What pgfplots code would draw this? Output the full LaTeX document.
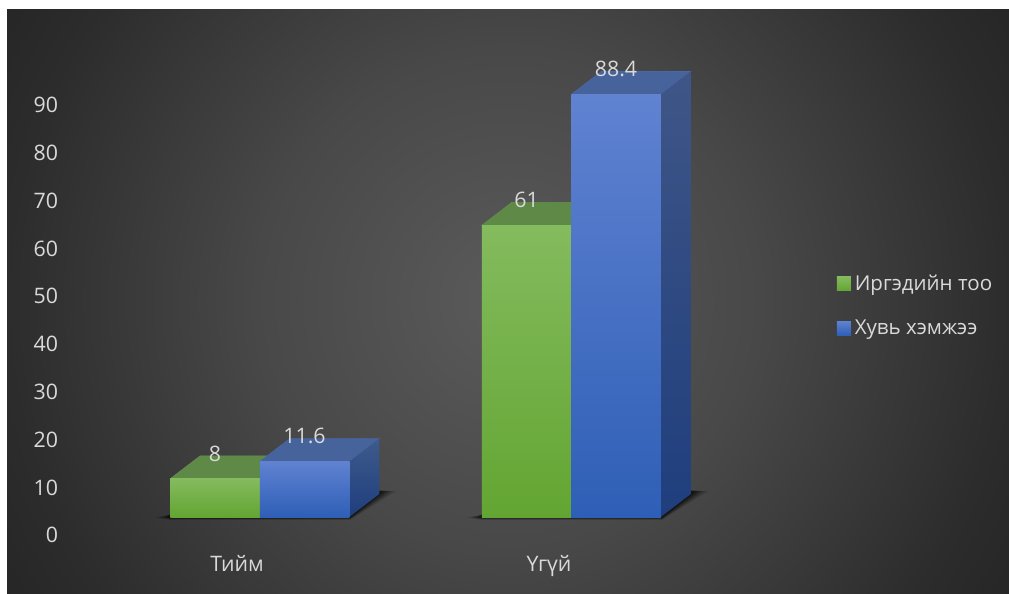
\documentclass[border=0pt]{standalone}
\usepackage{fontspec}
\usepackage{pgfplots}
\pgfplotsset{compat=1.18}
\setmainfont{Open Sans}
\definecolor{lab}{HTML}{D9D9D9}
\definecolor{gt}{RGB}{132,187,94}
\definecolor{gb}{RGB}{99,165,50}
\definecolor{bt}{RGB}{96,130,209}
\definecolor{bm}{RGB}{67,113,204}
\definecolor{bb}{RGB}{46,95,182}
\pgfdeclareradialshading{bgshade}{\pgfpointorigin}{rgb(0bp)=(0.355,0.355,0.355); rgb(10.8bp)=(0.283,0.283,0.283); rgb(21.6bp)=(0.173,0.173,0.173); rgb(25bp)=(0.15,0.15,0.15); rgb(50bp)=(0.15,0.15,0.15)}
\newcommand{\labfont}{\fontsize{16}{19}\selectfont}
\newcommand{\legfont}{\fontsize{15.4}{18}\selectfont}
\pgfplotsset{
  greenbar/.style={ybar, bar shift=0pt, bar width=89.5, draw=none, shade, top color=gt, bottom color=gb, nodes near coords},
  bluebar/.style={ybar, bar shift=0pt, bar width=89.5, draw=none, shade, top color=bt, middle color=bm, bottom color=bb, nodes near coords},
}
\begin{document}
\begin{tikzpicture}
\begin{axis}[
  scale only axis, width=756.75pt, height=444.75pt,
  xmin=0, xmax=1009, ymin=-15.9, ymax=108.16,
  clip=false, axis on top,
  axis line style={draw=none},
  major tick length=0pt, tick style={draw=none},
  ytick={0,10,...,90},
  xtick={237,549},
  xticklabels={Тийм,Үгүй},
  /pgf/number format/assume math mode=true,
  tick label style={font=\labfont, text=lab},
  yticklabel style={anchor=east, xshift=47pt, yshift=-13.75pt},
  xticklabel style={anchor=base, yshift=16.5pt},
  legend style={at={(axis cs:836.5,44.2)}, anchor=west, draw=none, fill=none,
    font=\legfont, text=lab, row sep=14.5pt, inner xsep=0pt, inner ysep=0pt,
    /tikz/every node/.append style={inner sep=3pt}},
  legend cell align=left,
  every node near coord/.style={anchor=center, font=\labfont, text=lab, yshift=19pt, shade=false},
]
% background
\fill[white] (axis cs:0,-15.9) rectangle (axis cs:1009,108.16);
\begin{scope}
\clip (axis cs:7,-15.9) rectangle (axis cs:1009,106.07);
\path[overlay, shading=bgshade] (axis cs:-72,-75.9) rectangle (axis cs:1088,166.7);
\end{scope}
% floor shadows
\foreach \o/\a/\b in {0/0.12/-0.6,3/0.15/-0.5,6/0.2/-0.4,9/0.25/-0.3,12/0.3/-0.2}{
  \edef\tmp{\noexpand\addplot[forget plot, fill=black, draw=none, fill opacity=\a] coordinates {(155+\o,-0.1) (170,\b) (350,\b) (396-\o,5.4) (370,5.6) (300,5) (170,0.5)} -- cycle;}
  \tmp
  \edef\tmp{\noexpand\addplot[forget plot, fill=black, draw=none, fill opacity=\a] coordinates {(467+\o,-0.1) (482,\b) (662,\b) (708-\o,5.4) (682,5.6) (600,5) (482,0.5)} -- cycle;}
  \tmp
}
% green
\addplot[forget plot, fill={rgb,255:red,94;green,137;blue,70}, draw={rgb,255:red,100;green,145;blue,75}, line width=0.4pt] coordinates {(170.25,8) (259.75,8) (289.75,12.8) (200.25,12.8)} -- cycle;
\addplot[forget plot, fill={rgb,255:red,94;green,137;blue,70}, draw={rgb,255:red,100;green,145;blue,75}, line width=0.4pt] coordinates {(481.75,61) (571.25,61) (601.25,65.8) (511.75,65.8)} -- cycle;
\addplot[greenbar,
  legend image code/.code={\path[shade, top color=gt, bottom color=gb] (0pt,-5.25pt) rectangle (10.5pt,5.25pt);}
  ] coordinates {(215,8)};
\addlegendentry{Иргэдийн тоо}
\addplot[forget plot, greenbar] coordinates {(526.5,61)};
% blue top and side faces
\addplot[forget plot, fill={rgb,255:red,70;green,99;blue,156}, draw={rgb,255:red,72;green,103;blue,165}, line width=0.4pt] coordinates {(259.75,11.6) (349.25,11.6) (379.25,16.4) (289.75,16.4)} -- cycle;
\addplot[forget plot, fill={rgb,255:red,70;green,99;blue,156}, draw={rgb,255:red,72;green,103;blue,165}, line width=0.4pt] coordinates {(571.25,88.4) (660.75,88.4) (690.75,93.2) (601.25,93.2)} -- cycle;
\addplot[forget plot, shade, top color={rgb,255:red,63;green,90;blue,140}, bottom color={rgb,255:red,30;green,62;blue,125}, draw=none] coordinates {(349.25,0) (379.25,4.8) (379.25,16.4) (349.25,11.6)} -- cycle;
\addplot[forget plot, shade, top color={rgb,255:red,63;green,86;blue,135}, bottom color={rgb,255:red,31;green,62;blue,125}, draw=none] coordinates {(660.75,0) (690.75,4.8) (690.75,93.2) (660.75,88.4)} -- cycle;
\addplot[bluebar,
  legend image code/.code={\path[shade, top color=bt, bottom color=bb] (0pt,-5.25pt) rectangle (10.5pt,5.25pt);}
  ] coordinates {(304.5,11.6)};
\addlegendentry{Хувь хэмжээ}
\addplot[forget plot, bluebar] coordinates {(616,88.4)};
\end{axis}
\end{tikzpicture}
\end{document}
